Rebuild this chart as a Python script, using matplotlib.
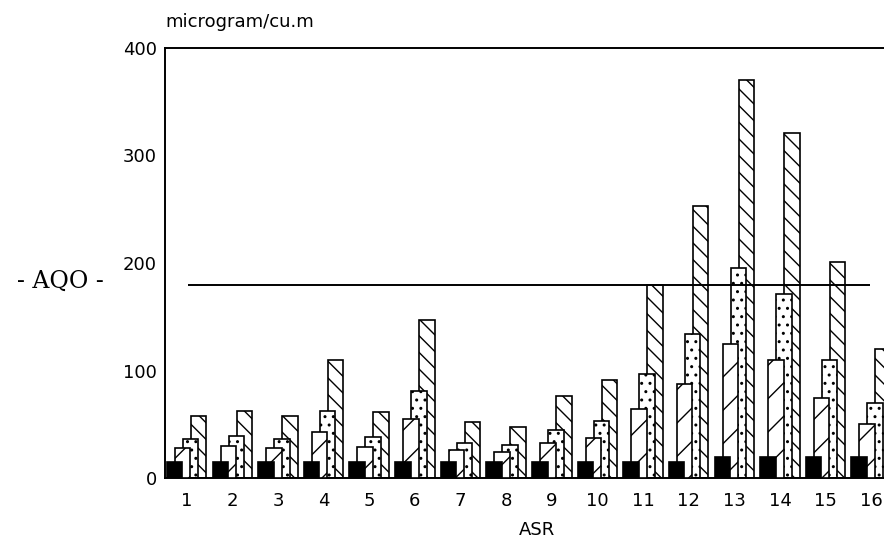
import numpy as np
import matplotlib
matplotlib.use("Agg")
import matplotlib.pyplot as plt

plt.rcParams['font.family'] = ['DejaVu Sans']
plt.rcParams['hatch.linewidth'] = 1.0

# concentrations (microgram/cu.m) at each air sensitive receiver
asr = list(range(1, 17))
background = [15, 15, 15, 15, 15, 15, 15, 15, 15, 15, 15, 15, 20, 20, 20, 20]
series_a = [28, 30, 28, 43, 29, 55, 26, 24, 33, 37, 64, 87, 125, 110, 74, 50]
series_b = [36, 39, 36, 62, 38, 81, 33, 31, 45, 53, 97, 134, 195, 171, 110, 70]
series_c = [58, 62, 58, 110, 61, 147, 52, 47, 76, 91, 180, 253, 370, 321, 201, 120]
aqo = 180

fig = plt.figure(figsize=(8.84, 5.5), dpi=100)
ax = fig.add_axes([165 / 884, 1 - 478 / 550, 1 - 165 / 884, 430 / 550])

x = np.array(asr, dtype=float)
width = 0.34
step = 0.175

# back to front: the leftmost bar of each group sits on top
layers = [
    (series_c, '\\\\', 1.5, 1),
    (series_b, '..', 0.5, 2),
    (series_a, '/', -0.5, 3),
]
for vals, hatch, k, z in layers:
    ax.bar(x + k * step, vals, width, facecolor='white', edgecolor='black',
           hatch=hatch, linewidth=1.2, zorder=z)
ax.bar(x - 1.5 * step, background, width, facecolor='black',
       edgecolor='black', linewidth=1.2, zorder=4)

ax.hlines(aqo, 1.02, 15.97, color='black', linewidth=1.4, zorder=5)

ax.set_xlim(0.525, 16.28)
ax.set_ylim(0, 400)
ax.set_xticks(asr)
ax.set_yticks([0, 100, 200, 300, 400])
ax.tick_params(length=0, labelsize=13)
ax.tick_params(axis='x', pad=10)
ax.tick_params(axis='y', pad=6)

for side in ['left', 'bottom', 'top']:
    ax.spines[side].set_linewidth(1.4)
ax.spines['right'].set_visible(False)

fig.text(165 / 884, 1 - 22 / 550, 'microgram/cu.m', fontsize=13,
         ha='left', va='center')
fig.text(537 / 884, 1 - 530 / 550, 'ASR', fontsize=13,
         ha='center', va='center')
fig.text(60 / 884, 1 - 281 / 550, '- AQO -', fontsize=17,
         family=['DejaVu Serif'], ha='center', va='center')

fig.savefig('out.png', dpi=100)
